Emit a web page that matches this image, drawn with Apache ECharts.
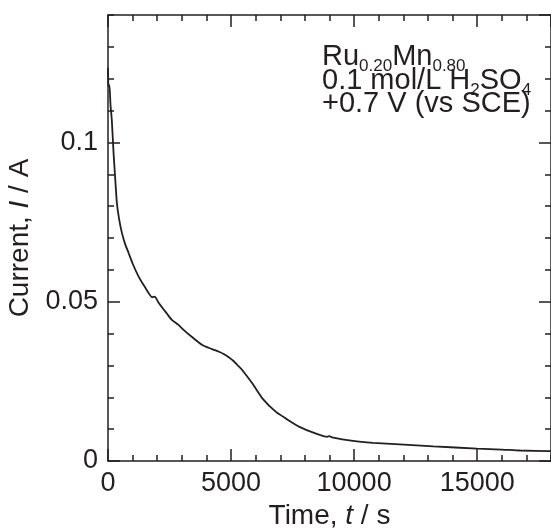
<!DOCTYPE html>
<html>
<head>
<meta charset="utf-8">
<script src="https://cdn.jsdelivr.net/npm/echarts@6/dist/echarts.min.js"></script>
<style>html,body{margin:0;padding:0;background:#fff;}#c{width:551px;height:530px;}</style>
</head>
<body>
<div id="c"></div>
<script>
// Time (s)
var times = [0, 20, 60, 100, 155, 225, 290, 360, 450, 565, 700, 837, 1000, 1245, 1500, 1800, 1900, 2000, 2062, 2400, 2605, 2850, 3082, 3400, 3830, 4200, 4510, 4700, 4920, 5100, 5300, 5460, 5870, 6280, 6825, 7233, 7777, 8458, 8900, 9000, 9100, 9952, 10769, 11858, 13218, 14990, 16000, 16750, 18000];
// Current (A)
var currents = [0.1234, 0.1176, 0.118, 0.112, 0.107, 0.0968, 0.089, 0.081, 0.076, 0.0716, 0.068, 0.0653, 0.062, 0.0579, 0.0546, 0.0514, 0.0516, 0.0505, 0.0496, 0.0462, 0.0442, 0.0428, 0.0411, 0.039, 0.0364, 0.0352, 0.0343, 0.0336, 0.0325, 0.0314, 0.0298, 0.0285, 0.0243, 0.0196, 0.0154, 0.0133, 0.0107, 0.0086, 0.0076, 0.0078, 0.0074, 0.0063, 0.0057, 0.0052, 0.0046, 0.0039, 0.0036, 0.0033, 0.0031];
var annotationLines = [
  '{n|Ru}{s|0.20}{n|Mn}{s|0.80}',
  '{n|0.1 mol/L H}{s|2}{n|SO}{s|4}',
  '{n|+0.7 V (vs SCE)}'
];
var xName = 'Time, {i|t} / s';
var yName = 'Current, {i|I} / A';

var C = '#231f20';
var FF = '"Liberation Sans", Arial, Helvetica, sans-serif';
var line = {color: C, width: 1.5};

function xAx(pos, interval, len, showLine, showLabel, extra) {
  var a = {
    type: 'value', position: pos, min: 0, max: 18000, interval: interval,
    axisLine: {show: showLine, onZero: false, lineStyle: line},
    axisTick: {show: true, inside: true, length: len, lineStyle: line},
    axisLabel: {show: showLabel, fontSize: 27, fontFamily: FF, color: C, margin: 9, showMaxLabel: false,
      formatter: function (v) { return String(v); }},
    splitLine: {show: false}
  };
  return Object.assign(a, extra || {});
}
function yAx(pos, interval, len, showLine, showLabel, extra) {
  var a = {
    type: 'value', position: pos, min: 0, max: 0.14, interval: interval,
    axisLine: {show: showLine, onZero: false, lineStyle: line},
    axisTick: {show: true, inside: true, length: len, lineStyle: line},
    axisLabel: {show: showLabel, fontSize: 27, fontFamily: FF, color: C, margin: 10, showMaxLabel: false},
    splitLine: {show: false}
  };
  return Object.assign(a, extra || {});
}

var chart = echarts.init(document.getElementById('c'), null, {renderer: 'canvas'});
var data = times.map(function (t, i) { return [t, currents[i]]; });

chart.setOption({
  animation: false,
  backgroundColor: '#fff',
  grid: {left: 108, right: 0, top: 15, bottom: 69, containLabel: false, outerBoundsMode: 'none'},
  xAxis: [
    xAx('bottom', 5000, 12, true, true, {
      name: xName, nameLocation: 'middle', nameGap: 40,
      nameTextStyle: {fontSize: 28, fontFamily: FF, color: C,
        rich: {i: {fontStyle: 'italic', fontSize: 28, fontFamily: FF, color: C}}}
    }),
    xAx('bottom', 1000, 6, false, false),
    xAx('top', 5000, 12, true, false),
    xAx('top', 1000, 6, false, false)
  ],
  yAxis: [
    yAx('left', 0.05, 12, true, true, {
      name: yName, nameLocation: 'middle', nameGap: 69,
      nameTextStyle: {fontSize: 28, fontFamily: FF, color: C,
        rich: {i: {fontStyle: 'italic', fontSize: 28, fontFamily: FF, color: C}}}
    }),
    yAx('left', 0.01, 6, false, false),
    yAx('right', 0.05, 12, true, false),
    yAx('right', 0.01, 6, false, false)
  ],
  series: [{
    type: 'line', xAxisIndex: 0, yAxisIndex: 0, data: data,
    showSymbol: false, smooth: 0.2,
    lineStyle: {color: C, width: 1.8}
  }],
  graphic: annotationLines.map(function (txt, i) {
    return {
      type: 'text', left: 322, top: [42, 66, 89][i],
      style: {
        text: txt, fill: C,
        rich: {
          n: {fontSize: 29, lineHeight: 29, verticalAlign: 'top', fontFamily: FF, fill: C, color: C},
          s: {fontSize: 17, lineHeight: 18, verticalAlign: 'top', padding: [16, 0, 0, 0], fontFamily: FF, fill: C, color: C}
        }
      }
    };
  })
});
</script>
</body>
</html>
